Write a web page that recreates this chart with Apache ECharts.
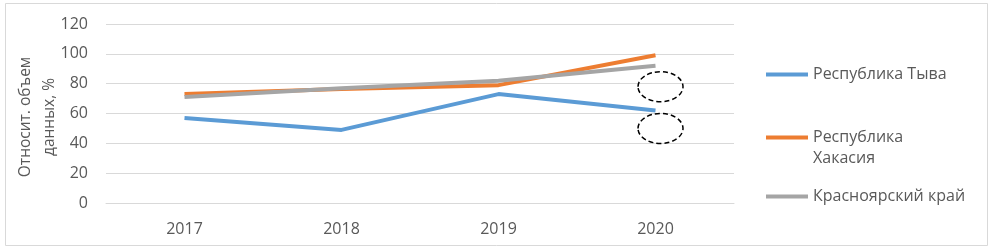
<!DOCTYPE html>
<html>
<head>
<meta charset="utf-8">
<script src="https://cdn.jsdelivr.net/npm/echarts@6/dist/echarts.min.js"></script>
<style>
html,body{margin:0;padding:0;background:#fff;}
#c{width:994px;height:252px;}
</style>
</head>
<body>
<div id="c"></div>
<script>
var years = ['2017', '2018', '2019', '2020'];
var tyva = [57, 49, 73, 62];
var khakasia = [73, 76.5, 79, 99];
var krasnoyarsk = [71, 77, 82, 92];
var seriesNames = ['Республика Тыва', 'Республика Хакасия', 'Красноярский край'];
var yTicks = [0, 20, 40, 60, 80, 100, 120];
var yAxisTitle = 'Относит. объем\nданных, %';
// annotation ellipses (category index, value centre)
var ellipses = [[3, 78], [3, 50]];

var colors = ['#5B9BD5', '#ED7D31', '#A5A5A5'];
var font = '"Open Sans", "Noto Sans", sans-serif';
var textColor = '#595959';

var chart = echarts.init(document.getElementById('c'), null, {renderer: 'canvas'});

function legendFor(i, top) {
  return {
    show: true,
    orient: 'vertical',
    left: 766,
    top: top,
    padding: 0,
    data: [seriesNames[i]],
    icon: 'rect',
    itemWidth: 42,
    itemHeight: 4,
    selectedMode: false,
    textStyle: {color: textColor, fontFamily: font, fontSize: 16, lineHeight: 21},
    formatter: function (n) { return n === 'Республика Хакасия' ? ' \nРеспублика\nХакасия' : n; }
  };
}

var option = {
  animation: false,
  backgroundColor: '#fff',
  graphic: [{
    type: 'rect',
    shape: {x: 5.5, y: 3.5, width: 982, height: 242},
    style: {fill: 'none', stroke: '#D9D9D9', lineWidth: 1},
    silent: true
  }, {
    type: 'text',
    x: 38,
    y: 117,
    rotation: Math.PI / 2,
    silent: true,
    style: {
      text: yAxisTitle,
      align: 'center',
      verticalAlign: 'middle',
      fill: textColor,
      fontFamily: font,
      fontSize: 15.5,
      lineHeight: 24
    }
  }],
  legend: [legendFor(0, 64), legendFor(1, 106), legendFor(2, 186)],
  grid: {left: 106, right: 260, top: 24, bottom: 49, containLabel: false, outerBoundsMode: 'none'},
  xAxis: {
    type: 'category',
    data: years,
    boundaryGap: true,
    axisLine: {show: true, lineStyle: {color: '#D9D9D9', width: 1}},
    axisTick: {show: false},
    axisLabel: {color: textColor, fontFamily: font, fontSize: 16, margin: 18}
  },
  yAxis: {
    type: 'value',
    min: yTicks[0],
    max: yTicks[yTicks.length - 1],
    interval: 20,
    axisLine: {show: false},
    axisTick: {show: false},
    splitLine: {lineStyle: {color: '#D9D9D9', width: 1}},
    axisLabel: {color: textColor, fontFamily: font, fontSize: 16, margin: 18}
  },
  series: [
    {name: seriesNames[0], type: 'line', data: tyva, symbol: 'none', lineStyle: {width: 4, color: colors[0]}, itemStyle: {color: colors[0]}},
    {name: seriesNames[1], type: 'line', data: khakasia, symbol: 'none', lineStyle: {width: 4, color: colors[1]}, itemStyle: {color: colors[1]}},
    {name: seriesNames[2], type: 'line', data: krasnoyarsk, symbol: 'none', lineStyle: {width: 4, color: colors[2]}, itemStyle: {color: colors[2]}},
    {
      type: 'custom',
      silent: true,
      z: 5,
      data: ellipses,
      renderItem: function (params, api) {
        var p = api.coord([api.value(0), api.value(1)]);
        return {
          type: 'ellipse',
          shape: {cx: p[0] + 5, cy: p[1], rx: 22.5, ry: 15},
          style: {fill: 'none', stroke: '#000', lineWidth: 1.5, lineDash: [5, 3]}
        };
      }
    }
  ]
};
chart.setOption(option);
</script>
</body>
</html>
